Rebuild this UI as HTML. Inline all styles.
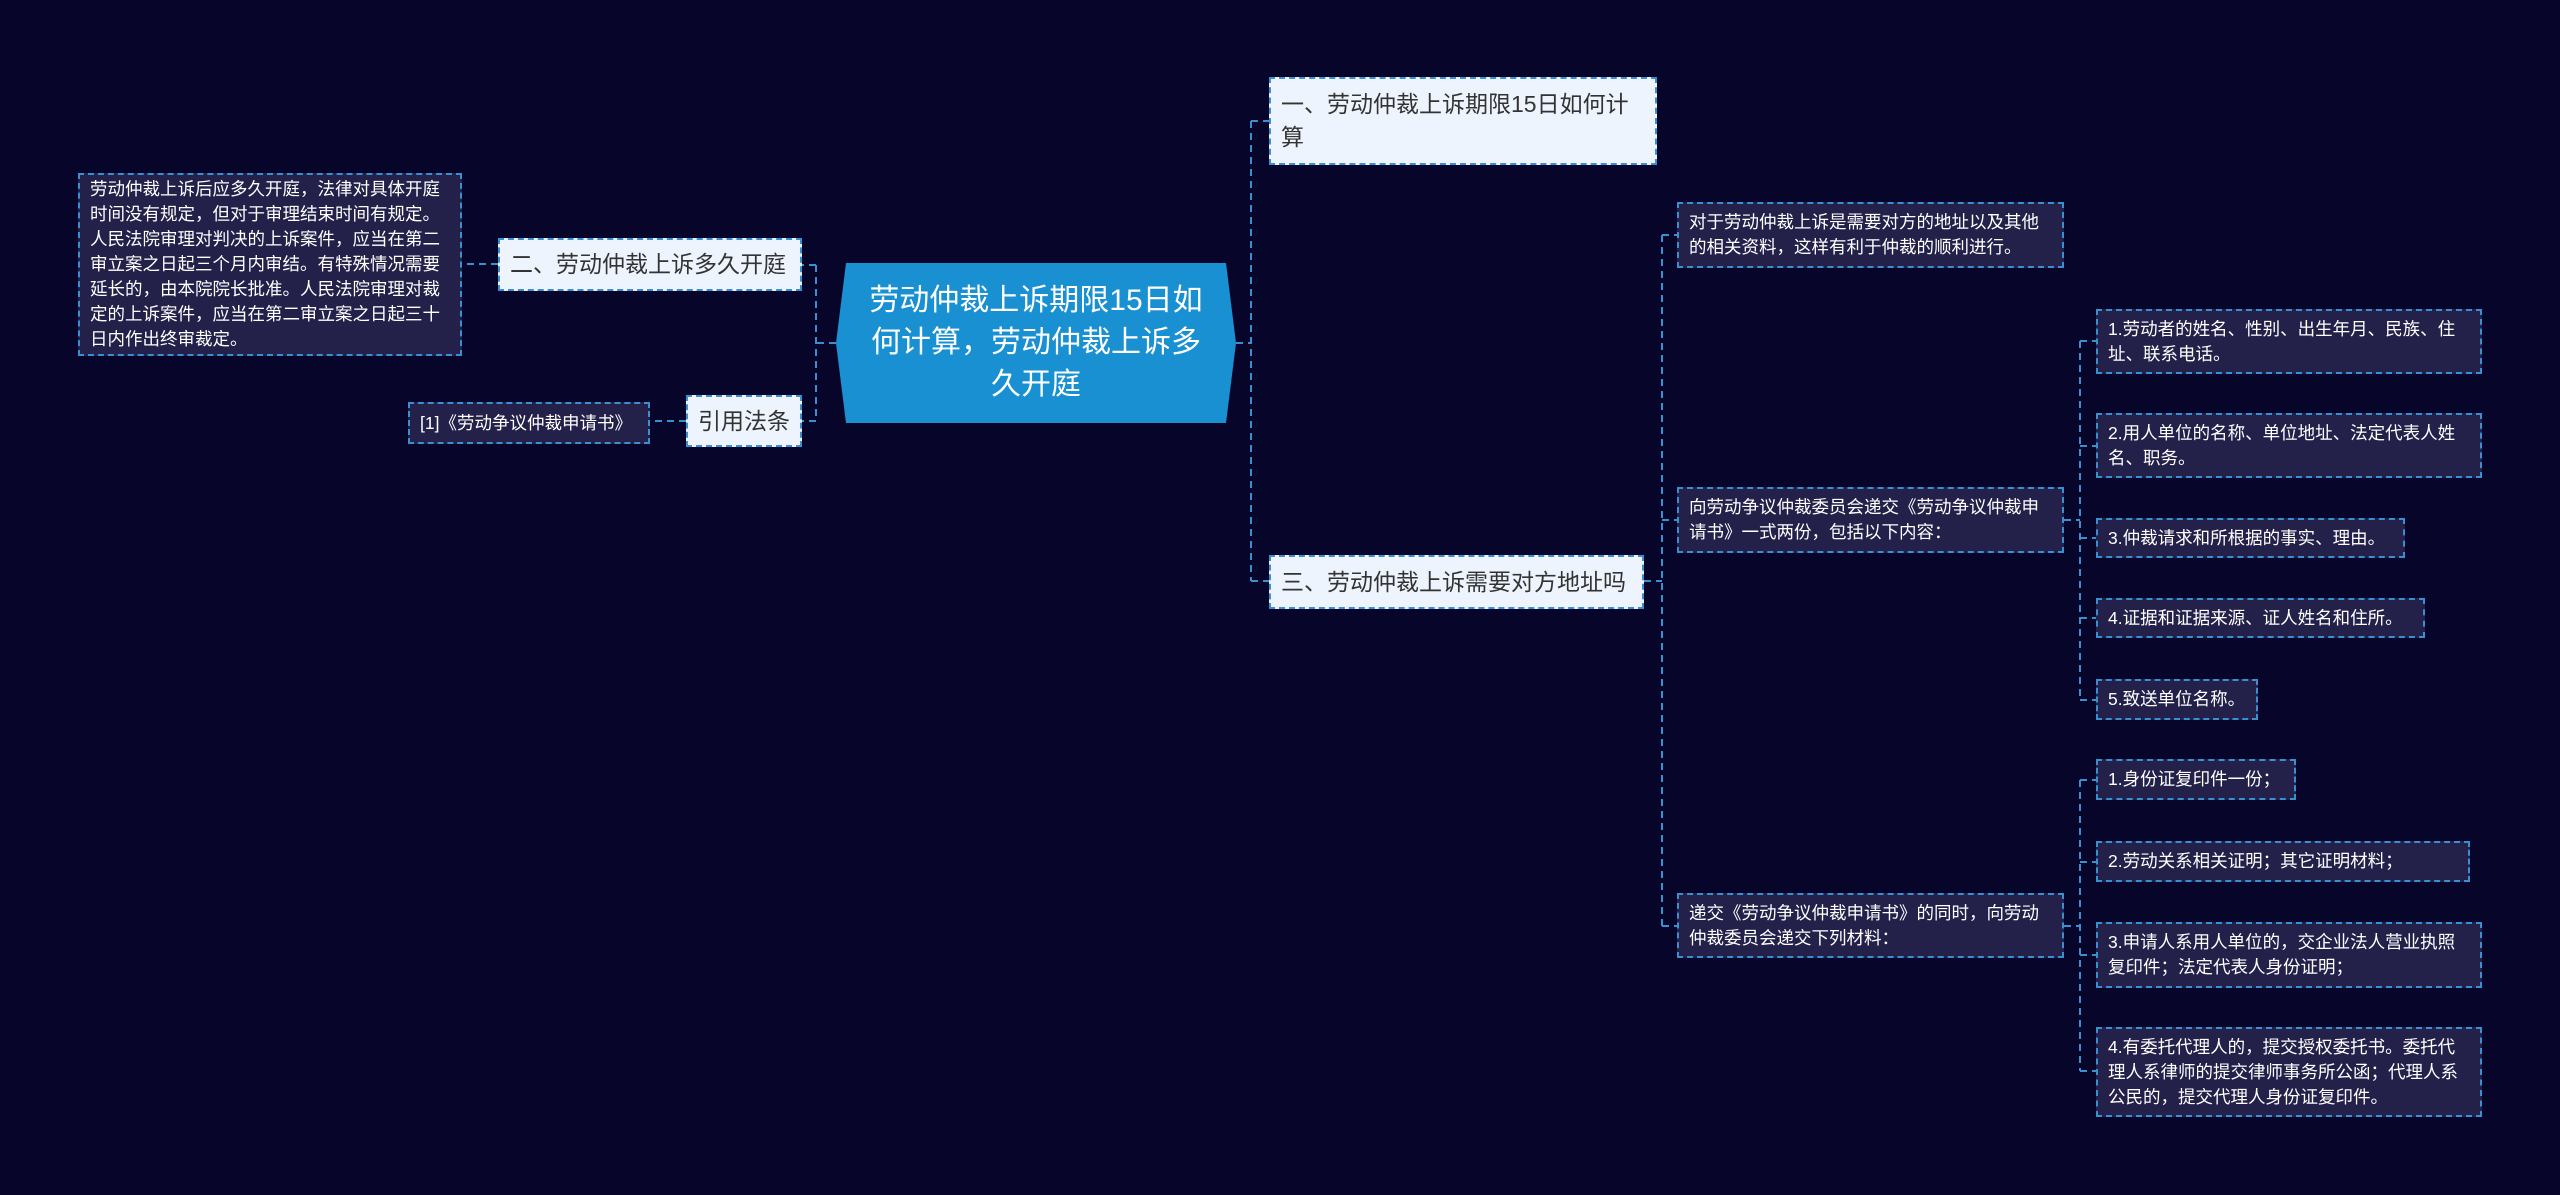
<!DOCTYPE html>
<html><head><meta charset="utf-8"><style>
html,body{margin:0;padding:0;background:#08052a;}
body{width:2560px;height:1195px;position:relative;overflow:hidden;font-family:"Liberation Sans","Noto Sans CJK SC",sans-serif;}
.n{position:absolute;box-sizing:border-box;}
.lt{background:#eef4fd;color:#333;font-size:23px;line-height:33px;padding:8px 10px;border:2px dashed #3a8fd0;display:flex;align-items:center;white-space:nowrap;}
.lt.w{white-space:normal;}
.dk{background:#23214a;color:#fff;font-size:17.5px;line-height:25px;padding:6px 10px;border:2px dashed #3a8fd0;display:flex;align-items:center;}
</style></head><body>
<svg width="2560" height="1195" style="position:absolute;left:0;top:0">
<g stroke="#3a8fd0" stroke-width="2" fill="none" stroke-dasharray="7 5">
<path d="M836 343 H816 M816 265 V421 M816 265 H802 M816 421 H802 M686 421 H650"/>
<path d="M498 264 H462"/>
<path d="M1236 343 H1251 M1251 121 V581 M1251 121 H1269 M1251 581 H1269"/>
<path d="M1644 581 H1662 M1662 235 V926 M1662 235 H1677 M1662 520 H1677 M1662 926 H1677"/>
<path d="M2064 520 H2080 M2080 341 V700 M2080 341 H2096 M2080 446 H2096 M2080 538 H2096 M2080 618 H2096 M2080 700 H2096"/>
<path d="M2064 926 H2080 M2080 780 V1071 M2080 780 H2096 M2080 862 H2096 M2080 955 H2096 M2080 1071 H2096"/>
</g>
<polygon points="846,263 1226,263 1236,343 1226,423 846,423 836,343" fill="#1890d2"/>
</svg>
<div class="n" style="left:856px;top:263px;width:360px;height:160px;padding:0 6px;color:#fff;font-size:30px;line-height:42px;text-align:center;display:flex;align-items:center;justify-content:center;">劳动仲裁上诉期限15日如何计算，劳动仲裁上诉多久开庭</div>
<div class="n lt" style="left:498px;top:238px;width:304px;height:53px;">二、劳动仲裁上诉多久开庭</div>
<div class="n dk" style="left:78px;top:173px;width:384px;height:183px;">劳动仲裁上诉后应多久开庭，法律对具体开庭时间没有规定，但对于审理结束时间有规定。人民法院审理对判决的上诉案件，应当在第二审立案之日起三个月内审结。有特殊情况需要延长的，由本院院长批准。人民法院审理对裁定的上诉案件，应当在第二审立案之日起三十日内作出终审裁定。</div>
<div class="n lt" style="left:686px;top:395px;width:116px;height:52px;justify-content:center;">引用法条</div>
<div class="n dk" style="left:408px;top:402px;width:242px;height:42px;white-space:nowrap;">[1]《劳动争议仲裁申请书》</div>
<div class="n lt w" style="left:1269px;top:77px;width:388px;height:88px;">一、劳动仲裁上诉期限15日如何计算</div>
<div class="n lt" style="left:1269px;top:555px;width:375px;height:54px;">三、劳动仲裁上诉需要对方地址吗</div>
<div class="n dk" style="left:1677px;top:202px;width:387px;height:66px;">对于劳动仲裁上诉是需要对方的地址以及其他的相关资料，这样有利于仲裁的顺利进行。</div>
<div class="n dk" style="left:1677px;top:487px;width:387px;height:66px;">向劳动争议仲裁委员会递交《劳动争议仲裁申请书》一式两份，包括以下内容：</div>
<div class="n dk" style="left:1677px;top:893px;width:387px;height:65px;">递交《劳动争议仲裁申请书》的同时，向劳动仲裁委员会递交下列材料：</div>
<div class="n dk" style="left:2096px;top:309px;width:386px;height:65px;">1.劳动者的姓名、性别、出生年月、民族、住址、联系电话。</div>
<div class="n dk" style="left:2096px;top:413px;width:386px;height:65px;">2.用人单位的名称、单位地址、法定代表人姓名、职务。</div>
<div class="n dk" style="left:2096px;top:518px;width:309px;height:40px;">3.仲裁请求和所根据的事实、理由。</div>
<div class="n dk" style="left:2096px;top:598px;width:329px;height:40px;">4.证据和证据来源、证人姓名和住所。</div>
<div class="n dk" style="left:2096px;top:679px;width:162px;height:41px;">5.致送单位名称。</div>
<div class="n dk" style="left:2096px;top:759px;width:200px;height:41px;">1.身份证复印件一份；</div>
<div class="n dk" style="left:2096px;top:841px;width:374px;height:41px;">2.劳动关系相关证明；其它证明材料；</div>
<div class="n dk" style="left:2096px;top:922px;width:386px;height:66px;">3.申请人系用人单位的，交企业法人营业执照复印件；法定代表人身份证明；</div>
<div class="n dk" style="left:2096px;top:1027px;width:386px;height:90px;">4.有委托代理人的，提交授权委托书。委托代理人系律师的提交律师事务所公函；代理人系公民的，提交代理人身份证复印件。</div>
</body></html>
